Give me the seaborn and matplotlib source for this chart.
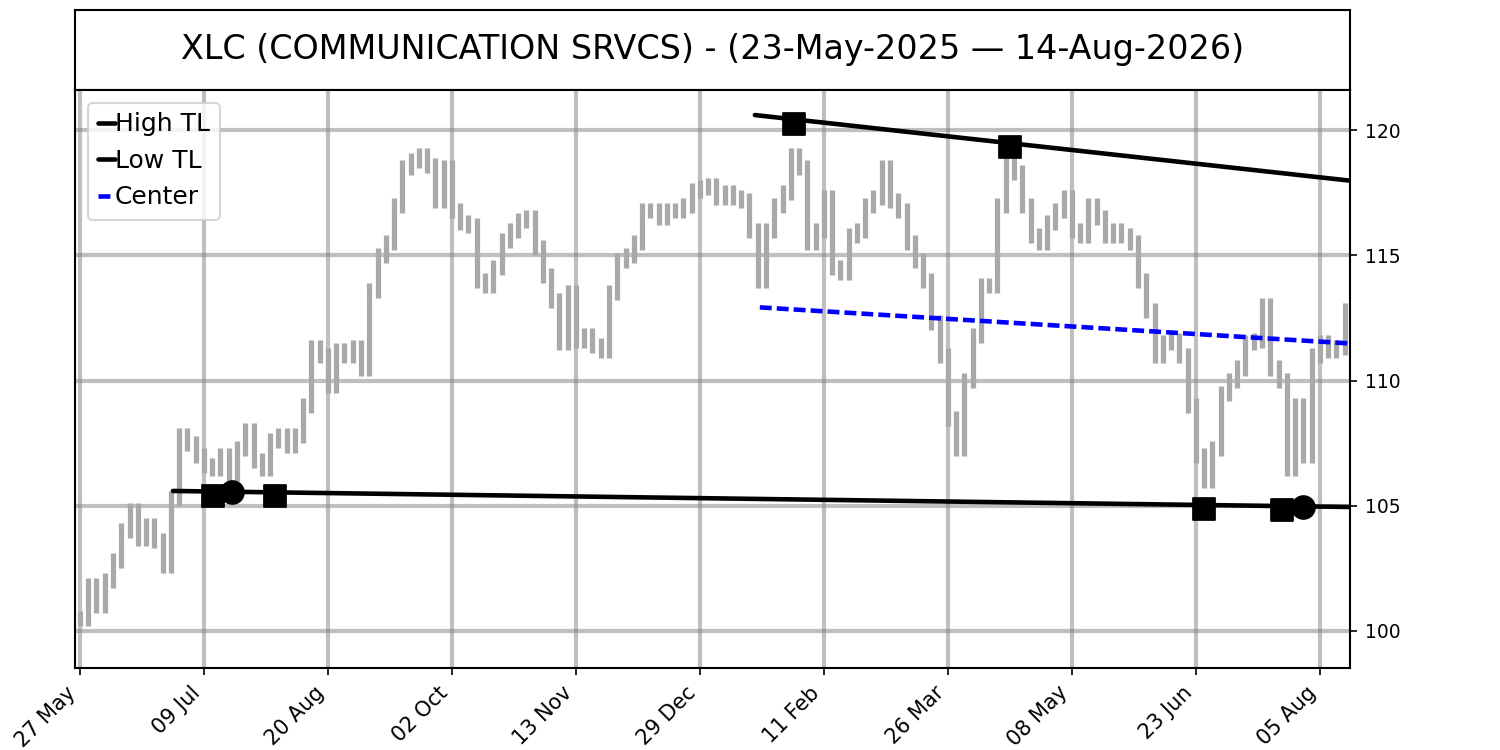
import numpy as np
import matplotlib
matplotlib.use("Agg")
import matplotlib.pyplot as plt
import seaborn as sns

title = "XLC (COMMUNICATION SRVCS) - (23-May-2025 \u2014 14-Aug-2026)"

# closing prices, one value every 2 trading days
closes = [
    100.5, 101.8, 101.0, 102.0, 102.8, 104.0, 104.8, 103.7, 104.2, 103.6,
    102.6, 105.3, 107.8, 107.5, 107.0, 106.6, 106.5, 107.0, 106.3, 107.3,
    108.0, 106.8, 106.5, 107.6, 107.8, 107.4, 107.8, 109.0, 111.3, 111.0,
    109.8, 111.2, 111.0, 111.3, 110.5, 113.6, 115.0, 115.5, 117.0, 118.5,
    118.8, 119.0, 118.6, 117.2, 118.5, 116.8, 116.3, 116.2, 114.0, 113.8,
    114.5, 115.6, 116.0, 116.4, 116.5, 115.3, 114.2, 113.2, 111.5, 113.5,
    111.6, 111.8, 111.4, 111.2, 113.5, 114.8, 115.0, 115.5, 116.8, 116.8,
    116.5, 116.8, 116.8, 117.0, 117.6, 117.7, 117.8, 117.3, 117.5, 117.3,
    117.2, 116.0, 114.0, 116.0, 117.0, 117.5, 119.0, 118.5, 115.5, 116.0,
    117.3, 114.5, 114.3, 115.8, 116.0, 117.0, 117.3, 118.5, 117.2, 116.8,
    115.5, 114.8, 114.0, 112.3, 111.0, 108.5, 107.3, 110.0, 111.8, 113.8,
    113.8, 117.0, 118.6, 118.3, 117.0, 115.8, 115.5, 116.3, 116.8, 117.3,
    116.0, 115.8, 117.0, 116.5, 115.8, 116.0, 115.8, 115.5, 114.0, 112.8,
    111.0, 111.5, 111.6, 111.0, 109.0, 107.0, 106.0, 107.3, 109.5, 110.0,
    110.5, 111.5, 111.6, 113.0, 110.5, 110.0, 106.5, 109.0, 107.0, 111.0,
    111.5, 111.2, 111.3, 112.8,
]

tick_pos = [0, 30, 60, 90, 120, 150, 180, 210, 240, 270, 300]
tick_labels = ["27 May", "09 Jul", "20 Aug", "02 Oct", "13 Nov", "29 Dec",
               "11 Feb", "26 Mar", "08 May", "23 Jun", "05 Aug"]

high_tl_x = [163.3, 307.3]
high_tl_y = [120.60, 117.98]
low_tl_x = [22.5, 307.3]
low_tl_y = [105.59, 104.95]
center_x = [164.5, 307.3]
center_y = [112.92, 111.48]

pivot_sq_x = [172.8, 225.0, 32.3, 47.2, 272.0, 290.8]
pivot_sq_y = [120.24, 119.32, 105.40, 105.40, 104.87, 104.83]
pivot_ci_x = [36.7, 296.0]
pivot_ci_y = [105.54, 104.94]

sns.set_style("ticks", rc={"text.color": "black", "xtick.color": "black",
                           "ytick.color": "black", "axes.edgecolor": "black",
                           "axes.labelcolor": "black"})
plt.rcParams['font.family'] = ['DejaVu Sans']

fig = plt.figure(figsize=(10, 5), dpi=150)
ax_t = fig.add_axes([0.05, 0.88, 0.85, 0.1067])
ax = fig.add_axes([0.05, 0.1093, 0.85, 0.7707])

ax_t.set_xticks([])
ax_t.set_yticks([])
for s in ax_t.spines.values():
    s.set_color("black")
    s.set_linewidth(1.0)
ax_t.text(0.5, 0.5, title, ha="center", va="center", fontsize=16,
          color="black", transform=ax_t.transAxes)

# price bars
c = np.array(closes)
xs = np.arange(len(c)) * 2
prev = np.r_[c[0], c[:-1]]
ax.vlines(xs, np.minimum(prev, c) - 0.3, np.maximum(prev, c) + 0.3,
          color="darkgray", lw=2.5, zorder=2)

sns.lineplot(x=high_tl_x, y=high_tl_y, color="black", lw=2.2, label="High TL", ax=ax, zorder=4)
sns.lineplot(x=low_tl_x, y=low_tl_y, color="black", lw=2.2, label="Low TL", ax=ax, zorder=4)
sns.lineplot(x=center_x, y=center_y, color="blue", lw=2.2, ls=(0, (2.6, 1.1)),
             label="Center", ax=ax, zorder=4)
sns.scatterplot(x=pivot_sq_x, y=pivot_sq_y, marker="s", s=110, color="black",
                edgecolor="black", ax=ax, zorder=5, legend=False)
sns.scatterplot(x=pivot_ci_x, y=pivot_ci_y, marker="o", s=120, color="black",
                edgecolor="black", ax=ax, zorder=5, legend=False)

ax.set_xlim(-1.2, 307.3)
ax.set_ylim(98.52, 121.6)
ax.set_xticks(tick_pos)
ax.set_xticklabels(tick_labels, rotation=45, ha="right", fontsize=10)
ax.set_yticks([100, 105, 110, 115, 120])
ax.yaxis.tick_right()
ax.tick_params(axis="y", labelsize=9, right=True, left=False)
ax.tick_params(axis="x", bottom=True)
ax.grid(True, color="gray", alpha=0.5, lw=2, zorder=0)
ax.set_axisbelow(True)
for s in ax.spines.values():
    s.set_color("black")
    s.set_linewidth(1.0)
ax.set_xlabel("")
ax.set_ylabel("")

ax.legend(loc="upper left", fontsize=12, handlelength=0.7, handletextpad=0.0,
          labelspacing=0.5, borderaxespad=0.5)

fig.savefig("out.png", dpi=150)
